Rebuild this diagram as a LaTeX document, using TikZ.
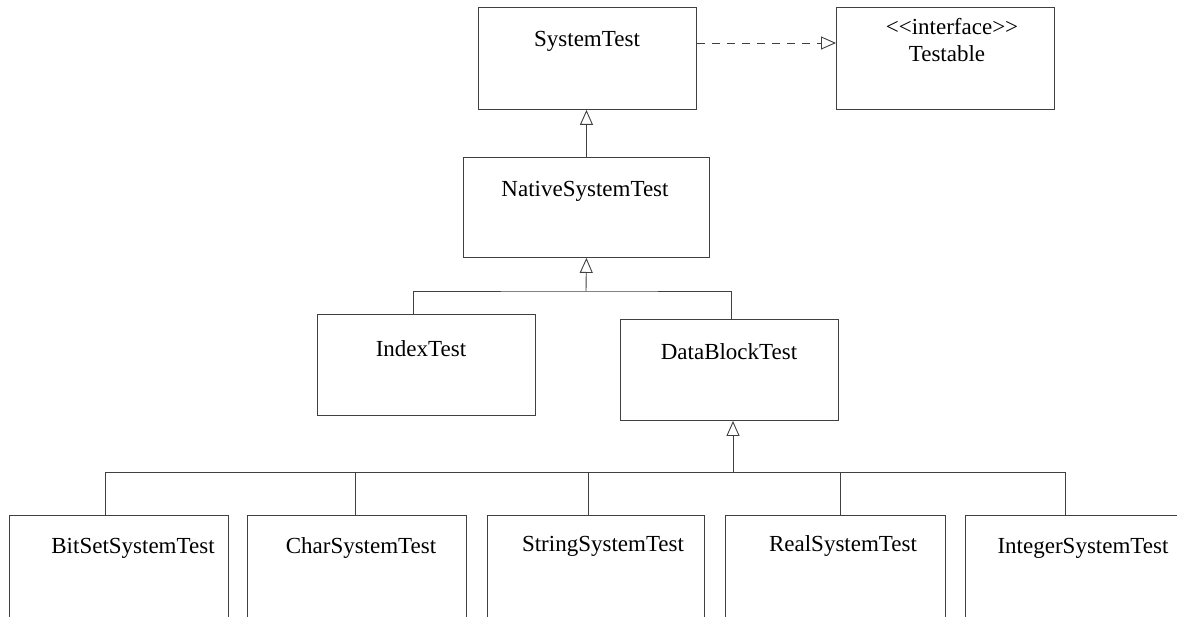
\documentclass[tikz,border=0pt]{standalone}
\usepackage{fontspec}
\setmainfont{Liberation Serif}
\usetikzlibrary{arrows.meta,calc}
\definecolor{umlline}{gray}{0.25}
\begin{document}
\begin{tikzpicture}[x=1pt,y=-1pt,
  box/.style={draw=umlline, line width=0.9pt, fill=white, anchor=north west, inner sep=0pt},
  lbl/.style={font=\fontsize{23}{27}\selectfont, inner sep=0pt, anchor=base},
  conn/.style={draw=umlline, line width=0.9pt},
  inh/.style={conn, -{Triangle[open, length=15pt, width=13pt, fill=white]}},
  realiz/.style={inh, dash pattern=on 8pt off 7pt}]
\useasboundingbox (0,0) rectangle (1177,617);
\clip (0,0) rectangle (1177,617);
% boxes
\node[box, minimum width=218pt, minimum height=102pt] (st) at (478,7) {};
\node[box, minimum width=218pt, minimum height=102pt] (tb) at (836,7) {};
\node[box, minimum width=246pt, minimum height=100pt] (nst) at (463,157) {};
\node[box, minimum width=218pt, minimum height=101pt] (it) at (317,314) {};
\node[box, minimum width=218pt, minimum height=101pt] (db) at (620,319) {};
\node[box, minimum width=219pt, minimum height=130pt] (bs) at (9,515) {};
\node[box, minimum width=219pt, minimum height=130pt] (cs) at (247,515) {};
\node[box, minimum width=217pt, minimum height=130pt] (ss) at (487,515) {};
\node[box, minimum width=220pt, minimum height=130pt] (rs) at (725,515) {};
\node[box, minimum width=230pt, minimum height=130pt] (is) at (965,515) {};
% labels
\node[lbl] (stl) at (587,47) {SystemTest};
\node[lbl] (tbi) at (952,35) {<\kern0pt<interface>\kern0pt>};
\node[lbl] (tbl) at (947,62) {Testable};
\node[lbl] (nstl) at (585,197) {NativeSystemTest};
\node[lbl] (itl) at (421,356) {IndexTest};
\node[lbl] (dbl) at (729,359) {DataBlockTest};
\node[lbl] (bsl) at (133,553) {BitSetSystemTest};
\node[lbl] (csl) at (361,553) {CharSystemTest};
\node[lbl] (ssl) at (603,551) {StringSystemTest};
\node[lbl] (rsl) at (843,551) {RealSystemTest};
\node[lbl] (isl) at (1083,553) {IntegerSystemTest};
% realization
\draw[realiz] (st.east |- 0,43) -- (tb.west |- 0,43);
% NativeSystemTest -> SystemTest
\draw[inh] (nst.north) -- (nst.north |- st.south);
% level 2 bus
\coordinate (b1) at (586,291);
\coordinate (itc) at ($(it.north west)+(96,0)$);
\coordinate (dbc) at ($(db.north west)+(111,0)$);
\draw[inh] (b1) -- (nst.south);
\draw[conn] (itc) |- (b1) -| (dbc);
% level 3 bus
\coordinate (b2) at (733,472);
\draw[inh] (b2) -- (b2 |- db.south);
\draw[conn] (105,472) -- (1065,472);
\foreach \n/\x in {bs/105, cs/355, ss/588, rs/840, is/1065}
  \draw[conn] (\x,472) -- (\x,0 |- \n.north);
\end{tikzpicture}
\end{document}
